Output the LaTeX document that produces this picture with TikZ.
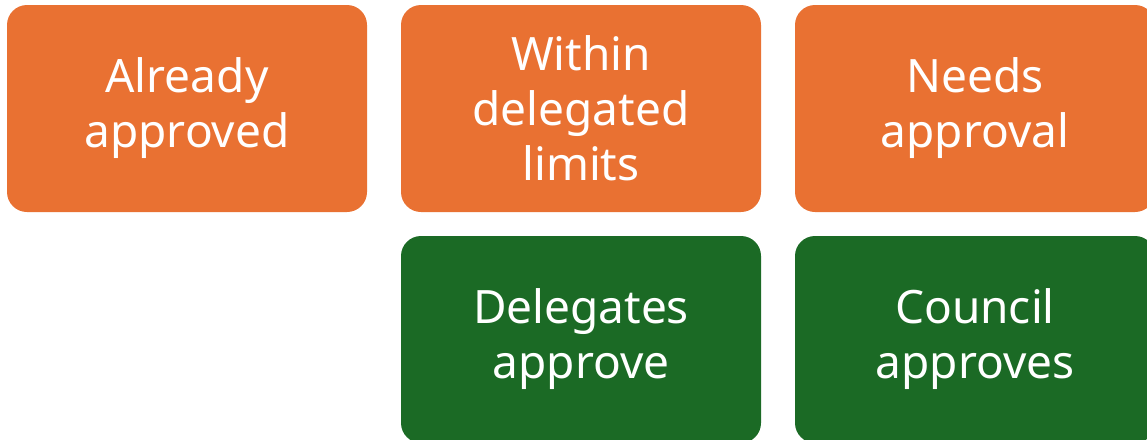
\documentclass[tikz,border=0pt]{standalone}
\usepackage{fontspec}
\setmainfont{Noto Sans}
\usepackage{xcolor}
\usetikzlibrary{positioning}
\definecolor{caseorange}{HTML}{E97132}
\definecolor{outcomegreen}{HTML}{1B6A25}
\tikzset{
  casebox/.style={fill=caseorange,text=white,rounded corners=20pt,align=center,
    minimum width=360pt,minimum height=207pt,inner sep=0pt,
    font=\fontsize{46}{55}\selectfont},
  outcomebox/.style={casebox,fill=outcomegreen}
}

\begin{document}
\begin{tikzpicture}[x=1pt,y=1pt]
  \useasboundingbox (0,0) rectangle (1147,-439);
  \clip (0,0) rectangle (1147,-439);
  % top row: the three cases
  \node[casebox] (already) at (187,-108.5) {Already\\approved};
  \node[casebox] (within) at (581,-108.5) {Within\\delegated\\limits};
  \node[casebox] (needs) at (975,-108.5) {Needs\\approval};
  % bottom row: who signs off
  \node[outcomebox] (delegates) at (581,-339.5) {Delegates\\approve};
  \node[outcomebox] (council) at (975,-339.5) {Council\\approves};
\end{tikzpicture}
\end{document}
